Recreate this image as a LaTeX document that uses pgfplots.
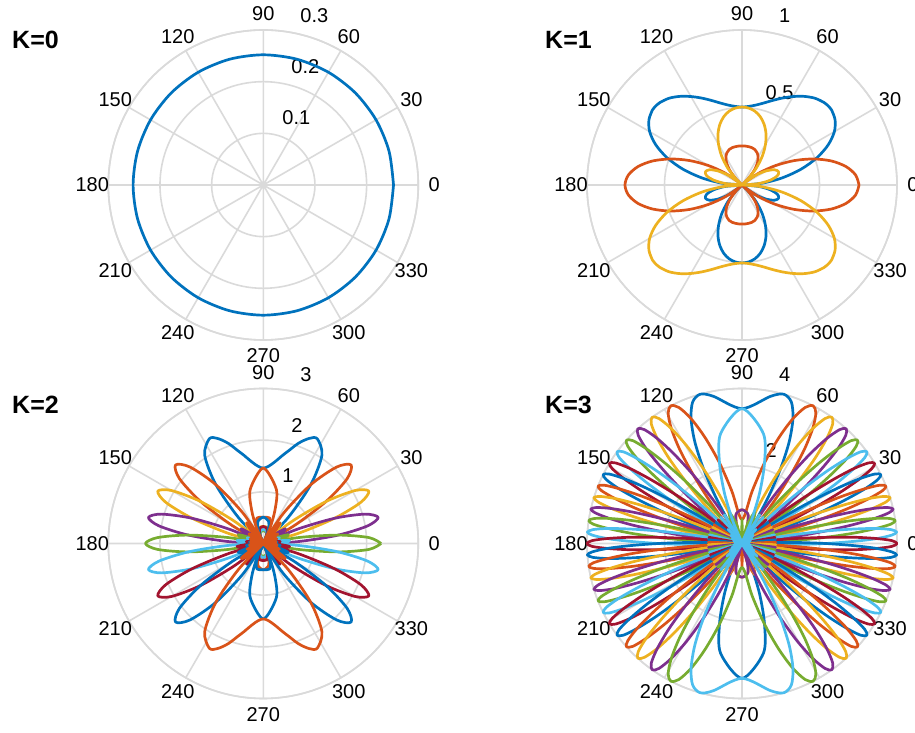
\documentclass[border=0pt]{standalone}
\usepackage{fontspec}
\setmainfont{Liberation Sans}
\usepackage{pgfplots}
\usepackage{pgfplotstable}
\usepgfplotslibrary{polar}
\pgfplotsset{compat=1.18}
\definecolor{c1}{RGB}{0,114,189}
\definecolor{c2}{RGB}{217,83,25}
\definecolor{c3}{RGB}{237,177,32}
\definecolor{c4}{RGB}{126,47,142}
\definecolor{c5}{RGB}{119,172,48}
\definecolor{c6}{RGB}{77,190,238}
\definecolor{c7}{RGB}{162,20,47}
\definecolor{gridc}{RGB}{218,218,218}
\pgfplotsset{
 mypolar/.style={scale only axis, width=310pt, height=310pt, anchor=origin, ymin=0,
  xtick={0,30,...,330}, xticklabel=\empty, yticklabel=\empty, major tick length=0pt,
  xmajorgrids, ymajorgrids, major grid style={draw=gridc, line width=1.6pt},
  axis line style={draw=gridc, line width=1.6pt}, clip=false},
 cv/.style={line width=2.7pt, smooth, no markers, line join=round},
}
\newcommand{\anglabels}[1]{%
 \pgfplotsinvokeforeach{0,30,...,330}{\node[inner sep=0pt, shift={(##1:16pt)}] at (axis cs:##1,#1) {##1};}}
\newcommand{\rlab}[2]{\node[anchor=west, inner sep=0pt] at ([xshift=10pt,yshift=16.5pt]axis cs:80,#1) {#2};}

\pgfplotstableread{
a b o y
0 0 0.755 0
5 0.127 0.736 0.109
10 0.262 0.682 0.190
15 0.395 0.598 0.238
20 0.515 0.491 0.251
25 0.614 0.373 0.232
30 0.688 0.252 0.184
35 0.733 0.137 0.115
40 0.754 0.033 0.032
41.8 0.755 0 0
45 0.751 0.053 0.057
50 0.731 0.122 0.146
55 0.698 0.173 0.230
60 0.659 0.208 0.303
65 0.619 0.230 0.366
70 0.581 0.243 0.417
75 0.548 0.249 0.456
80 0.524 0.251 0.483
85 0.509 0.252 0.498
90 0.503 0.252 0.503
95 0.509 0.252 0.498
100 0.524 0.251 0.483
105 0.548 0.249 0.456
110 0.581 0.243 0.417
115 0.619 0.230 0.366
120 0.659 0.208 0.303
125 0.698 0.173 0.230
130 0.731 0.122 0.146
135 0.751 0.053 0.057
138.2 0.755 0 0
140 0.754 0.033 0.032
145 0.733 0.137 0.115
150 0.688 0.252 0.184
155 0.614 0.373 0.232
160 0.515 0.491 0.251
165 0.395 0.598 0.238
170 0.262 0.682 0.190
175 0.127 0.736 0.109
180 0 0.755 0
185 0.109 0.736 0.127
190 0.190 0.682 0.262
195 0.238 0.598 0.395
200 0.251 0.491 0.515
205 0.232 0.373 0.614
210 0.184 0.252 0.688
215 0.115 0.137 0.733
220 0.032 0.033 0.754
221.8 0 0 0.755
225 0.057 0.053 0.751
230 0.146 0.122 0.731
235 0.230 0.173 0.698
240 0.303 0.208 0.659
245 0.366 0.230 0.619
250 0.417 0.243 0.581
255 0.456 0.249 0.548
260 0.483 0.251 0.524
265 0.498 0.252 0.509
270 0.503 0.252 0.503
275 0.498 0.252 0.509
280 0.483 0.251 0.524
285 0.456 0.249 0.548
290 0.417 0.243 0.581
295 0.366 0.230 0.619
300 0.303 0.208 0.659
305 0.230 0.173 0.698
310 0.146 0.122 0.731
315 0.057 0.053 0.751
318.2 0 0 0.755
320 0.032 0.033 0.754
325 0.115 0.137 0.733
330 0.184 0.252 0.688
335 0.232 0.373 0.614
340 0.251 0.491 0.515
345 0.238 0.598 0.395
350 0.190 0.682 0.262
355 0.109 0.736 0.127
360 0 0.755 0
}\Kone

\pgfplotstableread{
a r1 r2 r3 r4 r5 r6 r7 r8 r9
0 0 0 0 0 2.28 0 0 0 0
3.2 0.19 0.22 0.31 0.69 2.05 0.42 0.25 0.20 0.18
6.4 0.27 0.33 0.51 1.46 1.46 0.51 0.33 0.27 0.25
9.6 0.20 0.25 0.42 2.05 0.69 0.31 0.22 0.19 0.18
12.8 0 0 0 2.28 0 0 0 0 0
16.1 0.22 0.31 0.69 2.05 0.42 0.25 0.20 0.18 0.19
19.5 0.33 0.51 1.46 1.46 0.51 0.33 0.27 0.25 0.27
22.9 0.25 0.42 2.05 0.69 0.31 0.22 0.19 0.18 0.20
26.4 0 0 2.28 0 0 0 0 0 0
30 0.31 0.69 2.05 0.42 0.25 0.20 0.18 0.19 0.22
33.8 0.51 1.46 1.46 0.51 0.33 0.27 0.25 0.27 0.33
37.7 0.42 2.05 0.69 0.31 0.22 0.19 0.18 0.20 0.25
41.8 0 2.28 0 0 0 0 0 0 0
46.2 0.69 2.05 0.42 0.25 0.20 0.18 0.19 0.22 0.31
51.1 1.46 1.46 0.51 0.33 0.27 0.25 0.27 0.33 0.51
56.4 2.05 0.69 0.31 0.22 0.19 0.18 0.20 0.25 0.42
62.7 2.28 0 0 0 0 0 0 0 0
66.4 2.22 0.25 0.14 0.11 0.10 0.10 0.11 0.16 0.32
70.8 2.05 0.42 0.25 0.20 0.18 0.19 0.22 0.31 0.69
76.5 1.79 0.51 0.32 0.25 0.23 0.25 0.30 0.44 1.08
90 1.46 0.51 0.33 0.27 0.25 0.27 0.33 0.51 1.46
103.5 1.79 0.51 0.32 0.25 0.23 0.25 0.30 0.44 1.08
109.2 2.05 0.42 0.25 0.20 0.18 0.19 0.22 0.31 0.69
113.6 2.22 0.25 0.14 0.11 0.10 0.10 0.11 0.16 0.32
117.3 2.28 0 0 0 0 0 0 0 0
123.6 2.05 0.69 0.31 0.22 0.19 0.18 0.20 0.25 0.42
128.9 1.46 1.46 0.51 0.33 0.27 0.25 0.27 0.33 0.51
133.8 0.69 2.05 0.42 0.25 0.20 0.18 0.19 0.22 0.31
138.2 0 2.28 0 0 0 0 0 0 0
142.3 0.42 2.05 0.69 0.31 0.22 0.19 0.18 0.20 0.25
146.2 0.51 1.46 1.46 0.51 0.33 0.27 0.25 0.27 0.33
150 0.31 0.69 2.05 0.42 0.25 0.20 0.18 0.19 0.22
153.6 0 0 2.28 0 0 0 0 0 0
157.1 0.25 0.42 2.05 0.69 0.31 0.22 0.19 0.18 0.20
160.5 0.33 0.51 1.46 1.46 0.51 0.33 0.27 0.25 0.27
163.9 0.22 0.31 0.69 2.05 0.42 0.25 0.20 0.18 0.19
167.2 0 0 0 2.28 0 0 0 0 0
170.4 0.20 0.25 0.42 2.05 0.69 0.31 0.22 0.19 0.18
173.6 0.27 0.33 0.51 1.46 1.46 0.51 0.33 0.27 0.25
176.8 0.19 0.22 0.31 0.69 2.05 0.42 0.25 0.20 0.18
180 0 0 0 0 2.28 0 0 0 0
183.2 0.18 0.20 0.25 0.42 2.05 0.69 0.31 0.22 0.19
186.4 0.25 0.27 0.33 0.51 1.46 1.46 0.51 0.33 0.27
189.6 0.18 0.19 0.22 0.31 0.69 2.05 0.42 0.25 0.20
192.8 0 0 0 0 0 2.28 0 0 0
196.1 0.19 0.18 0.20 0.25 0.42 2.05 0.69 0.31 0.22
199.5 0.27 0.25 0.27 0.33 0.51 1.46 1.46 0.51 0.33
202.9 0.20 0.18 0.19 0.22 0.31 0.69 2.05 0.42 0.25
206.4 0 0 0 0 0 0 2.28 0 0
210 0.22 0.19 0.18 0.20 0.25 0.42 2.05 0.69 0.31
213.8 0.33 0.27 0.25 0.27 0.33 0.51 1.46 1.46 0.51
217.7 0.25 0.20 0.18 0.19 0.22 0.31 0.69 2.05 0.42
221.8 0 0 0 0 0 0 0 2.28 0
226.2 0.31 0.22 0.19 0.18 0.20 0.25 0.42 2.05 0.69
231.1 0.51 0.33 0.27 0.25 0.27 0.33 0.51 1.46 1.46
236.4 0.42 0.25 0.20 0.18 0.19 0.22 0.31 0.69 2.05
242.7 0 0 0 0 0 0 0 0 2.28
246.4 0.32 0.16 0.11 0.10 0.10 0.11 0.14 0.25 2.22
250.8 0.69 0.31 0.22 0.19 0.18 0.20 0.25 0.42 2.05
256.5 1.08 0.44 0.30 0.25 0.23 0.25 0.32 0.51 1.79
270 1.46 0.51 0.33 0.27 0.25 0.27 0.33 0.51 1.46
283.5 1.08 0.44 0.30 0.25 0.23 0.25 0.32 0.51 1.79
289.2 0.69 0.31 0.22 0.19 0.18 0.20 0.25 0.42 2.05
293.6 0.32 0.16 0.11 0.10 0.10 0.11 0.14 0.25 2.22
297.3 0 0 0 0 0 0 0 0 2.28
303.6 0.42 0.25 0.20 0.18 0.19 0.22 0.31 0.69 2.05
308.9 0.51 0.33 0.27 0.25 0.27 0.33 0.51 1.46 1.46
313.8 0.31 0.22 0.19 0.18 0.20 0.25 0.42 2.05 0.69
318.2 0 0 0 0 0 0 0 2.28 0
322.3 0.25 0.20 0.18 0.19 0.22 0.31 0.69 2.05 0.42
326.2 0.33 0.27 0.25 0.27 0.33 0.51 1.46 1.46 0.51
330 0.22 0.19 0.18 0.20 0.25 0.42 2.05 0.69 0.31
333.6 0 0 0 0 0 0 2.28 0 0
337.1 0.20 0.18 0.19 0.22 0.31 0.69 2.05 0.42 0.25
340.5 0.27 0.25 0.27 0.33 0.51 1.46 1.46 0.51 0.33
343.9 0.19 0.18 0.20 0.25 0.42 2.05 0.69 0.31 0.22
347.2 0 0 0 0 0 2.28 0 0 0
350.4 0.18 0.19 0.22 0.31 0.69 2.05 0.42 0.25 0.20
353.6 0.25 0.27 0.33 0.51 1.46 1.46 0.51 0.33 0.27
356.8 0.18 0.20 0.25 0.42 2.05 0.69 0.31 0.22 0.19
360 0 0 0 0 2.28 0 0 0 0
}\Ktwo

\begin{document}
\begin{tikzpicture}[font=\fontsize{20}{24}\selectfont]
\useasboundingbox (0,0) rectangle (915pt,733pt);
\node[anchor=base west, inner sep=0pt, font=\fontsize{25}{30}\selectfont\bfseries] at (12pt,684.7pt) {K=0};
\node[anchor=base west, inner sep=0pt, font=\fontsize{25}{30}\selectfont\bfseries] at (545pt,684.7pt) {K=1};
\node[anchor=base west, inner sep=0pt, font=\fontsize{25}{30}\selectfont\bfseries] at (12pt,319.7pt) {K=2};
\node[anchor=base west, inner sep=0pt, font=\fontsize{25}{30}\selectfont\bfseries] at (545pt,319.7pt) {K=3};

% ---------------- K=0
\begin{polaraxis}[mypolar, at={(263.3pt,548pt)}, ymax=0.3, ytick={0.1,0.2,0.3}]
\anglabels{0.3}
\rlab{0.1}{0.1}\rlab{0.2}{0.2}\rlab{0.3}{0.3}
\addplot[cv, c1] coordinates {(0,0.252)(15,0.252)(30,0.252)(45,0.252)(60,0.252)(75,0.252)(90,0.252)(105,0.252)(120,0.252)(135,0.252)(150,0.252)(165,0.252)(180,0.252)(195,0.252)(210,0.252)(225,0.252)(240,0.252)(255,0.252)(270,0.252)(285,0.252)(300,0.252)(315,0.252)(330,0.252)(345,0.252)(360,0.252)};
\end{polaraxis}

% ---------------- K=1
\begin{polaraxis}[mypolar, at={(742pt,548pt)}, ymax=1, ytick={0.5,1}]
\anglabels{1}
\rlab{0.5}{0.5}\rlab{1}{1}
\addplot[cv, c1] table[x=a, y=b] {\Kone};
\addplot[cv, c2] table[x=a, y=o] {\Kone};
\addplot[cv, c3] table[x=a, y=y] {\Kone};
\end{polaraxis}

% ---------------- K=2
\begin{polaraxis}[mypolar, at={(263.3pt,189.5pt)}, ymax=3, ytick={1,2,3}]
\anglabels{3}
\rlab{1}{1}\rlab{2}{2}\rlab{3}{3}
\addplot[cv, c1] table[x=a, y=r1] {\Ktwo};
\addplot[cv, c2] table[x=a, y=r2] {\Ktwo};
\addplot[cv, c3] table[x=a, y=r3] {\Ktwo};
\addplot[cv, c4] table[x=a, y=r4] {\Ktwo};
\addplot[cv, c5] table[x=a, y=r5] {\Ktwo};
\addplot[cv, c6] table[x=a, y=r6] {\Ktwo};
\addplot[cv, c7] table[x=a, y=r7] {\Ktwo};
\addplot[cv, c1] table[x=a, y=r8] {\Ktwo};
\addplot[cv, c2] table[x=a, y=r9] {\Ktwo};
\end{polaraxis}

% ---------------- K=3
\begin{polaraxis}[mypolar, at={(742pt,189.5pt)}, ymax=4, ytick={2,4}]
\anglabels{4}
\rlab{2}{2}\rlab{4}{4}
% m=13
\addplot[cv, c1] coordinates {(44.7,0)(51.1,0.87)(56.4,0)(58.4,0.62)(60.5,1.38)(62.7,2.16)(65.1,2.89)(67.8,3.48)(70.8,3.87)(74.4,4)(79.0,3.87)(90,3.48)(101.0,3.87)(105.6,4)(109.2,3.87)(112.2,3.48)(114.9,2.89)(117.3,2.16)(119.5,1.38)(121.6,0.62)(123.6,0)(128.9,0.87)(135.3,0)(231.1,0)(238.4,0.87)(245.1,0)(247.8,0.62)(250.8,1.38)(254.4,2.16)(259.0,2.89)(270,3.48)(281.0,2.89)(285.6,2.16)(289.2,1.38)(292.2,0.62)(294.9,0)(301.6,0.87)(308.9,0)};
% m=12
\addplot[cv, c2] coordinates {(39.0,0)(44.7,0.87)(49.4,0)(51.1,0.62)(52.8,1.38)(54.6,2.16)(56.4,2.89)(58.4,3.48)(60.5,3.87)(62.7,4)(65.1,3.87)(67.8,3.48)(70.8,2.89)(74.4,2.16)(79.0,1.38)(90,0.62)(101.0,1.38)(105.6,2.16)(109.2,2.89)(112.2,3.48)(114.9,3.87)(117.3,4)(119.5,3.87)(121.6,3.48)(123.6,2.89)(125.4,2.16)(127.2,1.38)(128.9,0.62)(130.6,0)(135.3,0.87)(141.0,0)(238.4,0)(242.7,0.57)(247.8,0.87)(254.4,0.50)(259.0,0)(270,0.62)(281.0,0)(285.6,0.50)(292.2,0.87)(297.3,0.57)(301.6,0)};
% m=11
\addplot[cv, c3] coordinates {(33.8,0)(39.0,0.87)(43.3,0)(44.7,0.62)(46.2,1.38)(47.8,2.16)(49.4,2.89)(51.1,3.48)(52.8,3.87)(54.6,4)(56.4,3.87)(58.4,3.48)(60.5,2.89)(62.7,2.16)(65.1,1.38)(67.8,0.62)(70.8,0)(74.4,0.50)(79.0,0.78)(90,0.87)(101.0,0.78)(105.6,0.50)(109.2,0)(112.2,0.62)(114.9,1.38)(117.3,2.16)(119.5,2.89)(121.6,3.48)(123.6,3.87)(125.4,4)(127.2,3.87)(128.9,3.48)(130.6,2.89)(132.2,2.16)(133.8,1.38)(135.3,0.62)(136.7,0)(141.0,0.87)(146.2,0)(247.8,0)(250.8,0.28)(254.4,0.57)(259.0,0.78)(270,0.87)(281.0,0.78)(285.6,0.57)(289.2,0.28)(292.2,0)};
% m=10
\addplot[cv, c4] coordinates {(28.8,0)(33.8,0.87)(37.7,0)(39.0,0.62)(40.4,1.38)(41.8,2.16)(43.3,2.89)(44.7,3.48)(46.2,3.87)(47.8,4)(49.4,3.87)(51.1,3.48)(52.8,2.89)(54.6,2.16)(56.4,1.38)(58.4,0.62)(60.5,0)(67.8,0.87)(90,0)(112.2,0.87)(119.5,0)(121.6,0.62)(123.6,1.38)(125.4,2.16)(127.2,2.89)(128.9,3.48)(130.6,3.87)(132.2,4)(133.8,3.87)(135.3,3.48)(136.7,2.89)(138.2,2.16)(139.6,1.38)(141.0,0.62)(142.3,0)(146.2,0.87)(151.2,0)};
% m=9
\addplot[cv, c5] coordinates {(24.0,0)(28.8,0.87)(32.5,0)(33.8,0.62)(35.0,1.38)(36.3,2.16)(37.7,2.89)(39.0,3.48)(40.4,3.87)(41.8,4)(43.3,3.87)(44.7,3.48)(46.2,2.89)(47.8,2.16)(49.4,1.38)(51.1,0.62)(52.8,0)(58.4,0.87)(67.8,0)(112.2,0)(121.6,0.87)(127.2,0)(128.9,0.62)(130.6,1.38)(132.2,2.16)(133.8,2.89)(135.3,3.48)(136.7,3.87)(138.2,4)(139.6,3.87)(141.0,3.48)(142.3,2.89)(143.7,2.16)(145.0,1.38)(146.2,0.62)(147.5,0)(151.2,0.87)(156.0,0)};
% m=8
\addplot[cv, c6] coordinates {(19.5,0)(24.0,0.87)(27.6,0)(28.8,0.62)(30.0,1.38)(31.2,2.16)(32.5,2.89)(33.8,3.48)(35.0,3.87)(36.3,4)(37.7,3.87)(39.0,3.48)(40.4,2.89)(41.8,2.16)(43.3,1.38)(44.7,0.62)(46.2,0)(51.1,0.87)(58.4,0)(121.6,0)(128.9,0.87)(133.8,0)(135.3,0.62)(136.7,1.38)(138.2,2.16)(139.6,2.89)(141.0,3.48)(142.3,3.87)(143.7,4)(145.0,3.87)(146.2,3.48)(147.5,2.89)(148.8,2.16)(150.0,1.38)(151.2,0.62)(152.4,0)(156.0,0.87)(160.5,0)};
% m=7
\addplot[cv, c7] coordinates {(15.0,0)(19.5,0.87)(22.9,0)(24.0,0.62)(25.2,1.38)(26.4,2.16)(27.6,2.89)(28.8,3.48)(30.0,3.87)(31.2,4)(32.5,3.87)(33.8,3.48)(35.0,2.89)(36.3,2.16)(37.7,1.38)(39.0,0.62)(40.4,0)(44.7,0.87)(51.1,0)(128.9,0)(135.3,0.87)(139.6,0)(141.0,0.62)(142.3,1.38)(143.7,2.16)(145.0,2.89)(146.2,3.48)(147.5,3.87)(148.8,4)(150.0,3.87)(151.2,3.48)(152.4,2.89)(153.6,2.16)(154.8,1.38)(156.0,0.62)(157.1,0)(160.5,0.87)(165.0,0)};
% m=6
\addplot[cv, c1] coordinates {(10.7,0)(15.0,0.87)(18.3,0)(19.5,0.62)(20.6,1.38)(21.7,2.16)(22.9,2.89)(24.0,3.48)(25.2,3.87)(26.4,4)(27.6,3.87)(28.8,3.48)(30.0,2.89)(31.2,2.16)(32.5,1.38)(33.8,0.62)(35.0,0)(39.0,0.87)(44.7,0)(135.3,0)(141.0,0.87)(145.0,0)(146.2,0.62)(147.5,1.38)(148.8,2.16)(150.0,2.89)(151.2,3.48)(152.4,3.87)(153.6,4)(154.8,3.87)(156.0,3.48)(157.1,2.89)(158.3,2.16)(159.4,1.38)(160.5,0.62)(161.7,0)(165.0,0.87)(169.3,0)};
% m=5
\addplot[cv, c2] coordinates {(6.4,0)(10.7,0.87)(13.9,0)(15.0,0.62)(16.1,1.38)(17.2,2.16)(18.3,2.89)(19.5,3.48)(20.6,3.87)(21.7,4)(22.9,3.87)(24.0,3.48)(25.2,2.89)(26.4,2.16)(27.6,1.38)(28.8,0.62)(30.0,0)(33.8,0.87)(39.0,0)(141.0,0)(146.2,0.87)(150.0,0)(151.2,0.62)(152.4,1.38)(153.6,2.16)(154.8,2.89)(156.0,3.48)(157.1,3.87)(158.3,4)(159.4,3.87)(160.5,3.48)(161.7,2.89)(162.8,2.16)(163.9,1.38)(165.0,0.62)(166.1,0)(169.3,0.87)(173.6,0)};
% m=4
\addplot[cv, c3] coordinates {(2.1,0)(6.4,0.87)(9.6,0)(10.7,0.62)(11.8,1.38)(12.8,2.16)(13.9,2.89)(15.0,3.48)(16.1,3.87)(17.2,4)(18.3,3.87)(19.5,3.48)(20.6,2.89)(21.7,2.16)(22.9,1.38)(24.0,0.62)(25.2,0)(28.8,0.87)(33.8,0)(146.2,0)(151.2,0.87)(154.8,0)(156.0,0.62)(157.1,1.38)(158.3,2.16)(159.4,2.89)(160.5,3.48)(161.7,3.87)(162.8,4)(163.9,3.87)(165.0,3.48)(166.1,2.89)(167.2,2.16)(168.2,1.38)(169.3,0.62)(170.4,0)(173.6,0.87)(177.9,0)};
% m=3
\addplot[cv, c4] coordinates {(-2.1,0)(2.1,0.87)(5.3,0)(6.4,0.62)(7.4,1.38)(8.5,2.16)(9.6,2.89)(10.7,3.48)(11.8,3.87)(12.8,4)(13.9,3.87)(15.0,3.48)(16.1,2.89)(17.2,2.16)(18.3,1.38)(19.5,0.62)(20.6,0)(24.0,0.87)(28.8,0)(151.2,0)(156.0,0.87)(159.4,0)(160.5,0.62)(161.7,1.38)(162.8,2.16)(163.9,2.89)(165.0,3.48)(166.1,3.87)(167.2,4)(168.2,3.87)(169.3,3.48)(170.4,2.89)(171.5,2.16)(172.6,1.38)(173.6,0.62)(174.7,0)(177.9,0.87)(182.1,0)};
% m=2
\addplot[cv, c5] coordinates {(-6.4,0)(-2.1,0.87)(1.1,0)(2.1,0.62)(3.2,1.38)(4.2,2.16)(5.3,2.89)(6.4,3.48)(7.4,3.87)(8.5,4)(9.6,3.87)(10.7,3.48)(11.8,2.89)(12.8,2.16)(13.9,1.38)(15.0,0.62)(16.1,0)(19.5,0.87)(24.0,0)(156.0,0)(160.5,0.87)(163.9,0)(165.0,0.62)(166.1,1.38)(167.2,2.16)(168.2,2.89)(169.3,3.48)(170.4,3.87)(171.5,4)(172.6,3.87)(173.6,3.48)(174.7,2.89)(175.8,2.16)(176.8,1.38)(177.9,0.62)(178.9,0)(182.1,0.87)(186.4,0)};
% m=1
\addplot[cv, c6] coordinates {(-10.7,0)(-6.4,0.87)(-3.2,0)(-2.1,0.62)(-1.1,1.38)(0,2.16)(1.1,2.89)(2.1,3.48)(3.2,3.87)(4.2,4)(5.3,3.87)(6.4,3.48)(7.4,2.89)(8.5,2.16)(9.6,1.38)(10.7,0.62)(11.8,0)(15.0,0.87)(19.5,0)(160.5,0)(165.0,0.87)(168.2,0)(169.3,0.62)(170.4,1.38)(171.5,2.16)(172.6,2.89)(173.6,3.48)(174.7,3.87)(175.8,4)(176.8,3.87)(177.9,3.48)(178.9,2.89)(180,2.16)(181.1,1.38)(182.1,0.62)(183.2,0)(186.4,0.87)(190.7,0)};
% m=0
\addplot[cv, c7] coordinates {(-15.0,0)(-10.7,0.87)(-7.4,0)(-6.4,0.62)(-5.3,1.38)(-4.2,2.16)(-3.2,2.89)(-2.1,3.48)(-1.1,3.87)(0,4)(1.1,3.87)(2.1,3.48)(3.2,2.89)(4.2,2.16)(5.3,1.38)(6.4,0.62)(7.4,0)(10.7,0.87)(15.0,0)(165.0,0)(169.3,0.87)(172.6,0)(173.6,0.62)(174.7,1.38)(175.8,2.16)(176.8,2.89)(177.9,3.48)(178.9,3.87)(180,4)(181.1,3.87)(182.1,3.48)(183.2,2.89)(184.2,2.16)(185.3,1.38)(186.4,0.62)(187.4,0)(190.7,0.87)(195.0,0)};
% m=-1
\addplot[cv, c1] coordinates {(10.7,0)(6.4,0.87)(3.2,0)(2.1,0.62)(1.1,1.38)(0,2.16)(-1.1,2.89)(-2.1,3.48)(-3.2,3.87)(-4.2,4)(-5.3,3.87)(-6.4,3.48)(-7.4,2.89)(-8.5,2.16)(-9.6,1.38)(-10.7,0.62)(-11.8,0)(-15.0,0.87)(-19.5,0)(-160.5,0)(-165.0,0.87)(-168.2,0)(-169.3,0.62)(-170.4,1.38)(-171.5,2.16)(-172.6,2.89)(-173.6,3.48)(-174.7,3.87)(-175.8,4)(-176.8,3.87)(-177.9,3.48)(-178.9,2.89)(-180,2.16)(-181.1,1.38)(-182.1,0.62)(-183.2,0)(-186.4,0.87)(-190.7,0)};
% m=-2
\addplot[cv, c2] coordinates {(6.4,0)(2.1,0.87)(-1.1,0)(-2.1,0.62)(-3.2,1.38)(-4.2,2.16)(-5.3,2.89)(-6.4,3.48)(-7.4,3.87)(-8.5,4)(-9.6,3.87)(-10.7,3.48)(-11.8,2.89)(-12.8,2.16)(-13.9,1.38)(-15.0,0.62)(-16.1,0)(-19.5,0.87)(-24.0,0)(-156.0,0)(-160.5,0.87)(-163.9,0)(-165.0,0.62)(-166.1,1.38)(-167.2,2.16)(-168.2,2.89)(-169.3,3.48)(-170.4,3.87)(-171.5,4)(-172.6,3.87)(-173.6,3.48)(-174.7,2.89)(-175.8,2.16)(-176.8,1.38)(-177.9,0.62)(-178.9,0)(-182.1,0.87)(-186.4,0)};
% m=-3
\addplot[cv, c3] coordinates {(2.1,0)(-2.1,0.87)(-5.3,0)(-6.4,0.62)(-7.4,1.38)(-8.5,2.16)(-9.6,2.89)(-10.7,3.48)(-11.8,3.87)(-12.8,4)(-13.9,3.87)(-15.0,3.48)(-16.1,2.89)(-17.2,2.16)(-18.3,1.38)(-19.5,0.62)(-20.6,0)(-24.0,0.87)(-28.8,0)(-151.2,0)(-156.0,0.87)(-159.4,0)(-160.5,0.62)(-161.7,1.38)(-162.8,2.16)(-163.9,2.89)(-165.0,3.48)(-166.1,3.87)(-167.2,4)(-168.2,3.87)(-169.3,3.48)(-170.4,2.89)(-171.5,2.16)(-172.6,1.38)(-173.6,0.62)(-174.7,0)(-177.9,0.87)(-182.1,0)};
% m=-4
\addplot[cv, c4] coordinates {(-2.1,0)(-6.4,0.87)(-9.6,0)(-10.7,0.62)(-11.8,1.38)(-12.8,2.16)(-13.9,2.89)(-15.0,3.48)(-16.1,3.87)(-17.2,4)(-18.3,3.87)(-19.5,3.48)(-20.6,2.89)(-21.7,2.16)(-22.9,1.38)(-24.0,0.62)(-25.2,0)(-28.8,0.87)(-33.8,0)(-146.2,0)(-151.2,0.87)(-154.8,0)(-156.0,0.62)(-157.1,1.38)(-158.3,2.16)(-159.4,2.89)(-160.5,3.48)(-161.7,3.87)(-162.8,4)(-163.9,3.87)(-165.0,3.48)(-166.1,2.89)(-167.2,2.16)(-168.2,1.38)(-169.3,0.62)(-170.4,0)(-173.6,0.87)(-177.9,0)};
% m=-5
\addplot[cv, c5] coordinates {(-6.4,0)(-10.7,0.87)(-13.9,0)(-15.0,0.62)(-16.1,1.38)(-17.2,2.16)(-18.3,2.89)(-19.5,3.48)(-20.6,3.87)(-21.7,4)(-22.9,3.87)(-24.0,3.48)(-25.2,2.89)(-26.4,2.16)(-27.6,1.38)(-28.8,0.62)(-30.0,0)(-33.8,0.87)(-39.0,0)(-141.0,0)(-146.2,0.87)(-150.0,0)(-151.2,0.62)(-152.4,1.38)(-153.6,2.16)(-154.8,2.89)(-156.0,3.48)(-157.1,3.87)(-158.3,4)(-159.4,3.87)(-160.5,3.48)(-161.7,2.89)(-162.8,2.16)(-163.9,1.38)(-165.0,0.62)(-166.1,0)(-169.3,0.87)(-173.6,0)};
% m=-6
\addplot[cv, c6] coordinates {(-10.7,0)(-15.0,0.87)(-18.3,0)(-19.5,0.62)(-20.6,1.38)(-21.7,2.16)(-22.9,2.89)(-24.0,3.48)(-25.2,3.87)(-26.4,4)(-27.6,3.87)(-28.8,3.48)(-30.0,2.89)(-31.2,2.16)(-32.5,1.38)(-33.8,0.62)(-35.0,0)(-39.0,0.87)(-44.7,0)(-135.3,0)(-141.0,0.87)(-145.0,0)(-146.2,0.62)(-147.5,1.38)(-148.8,2.16)(-150.0,2.89)(-151.2,3.48)(-152.4,3.87)(-153.6,4)(-154.8,3.87)(-156.0,3.48)(-157.1,2.89)(-158.3,2.16)(-159.4,1.38)(-160.5,0.62)(-161.7,0)(-165.0,0.87)(-169.3,0)};
% m=-7
\addplot[cv, c7] coordinates {(-15.0,0)(-19.5,0.87)(-22.9,0)(-24.0,0.62)(-25.2,1.38)(-26.4,2.16)(-27.6,2.89)(-28.8,3.48)(-30.0,3.87)(-31.2,4)(-32.5,3.87)(-33.8,3.48)(-35.0,2.89)(-36.3,2.16)(-37.7,1.38)(-39.0,0.62)(-40.4,0)(-44.7,0.87)(-51.1,0)(-128.9,0)(-135.3,0.87)(-139.6,0)(-141.0,0.62)(-142.3,1.38)(-143.7,2.16)(-145.0,2.89)(-146.2,3.48)(-147.5,3.87)(-148.8,4)(-150.0,3.87)(-151.2,3.48)(-152.4,2.89)(-153.6,2.16)(-154.8,1.38)(-156.0,0.62)(-157.1,0)(-160.5,0.87)(-165.0,0)};
% m=-8
\addplot[cv, c1] coordinates {(-19.5,0)(-24.0,0.87)(-27.6,0)(-28.8,0.62)(-30.0,1.38)(-31.2,2.16)(-32.5,2.89)(-33.8,3.48)(-35.0,3.87)(-36.3,4)(-37.7,3.87)(-39.0,3.48)(-40.4,2.89)(-41.8,2.16)(-43.3,1.38)(-44.7,0.62)(-46.2,0)(-51.1,0.87)(-58.4,0)(-121.6,0)(-128.9,0.87)(-133.8,0)(-135.3,0.62)(-136.7,1.38)(-138.2,2.16)(-139.6,2.89)(-141.0,3.48)(-142.3,3.87)(-143.7,4)(-145.0,3.87)(-146.2,3.48)(-147.5,2.89)(-148.8,2.16)(-150.0,1.38)(-151.2,0.62)(-152.4,0)(-156.0,0.87)(-160.5,0)};
% m=-9
\addplot[cv, c2] coordinates {(-24.0,0)(-28.8,0.87)(-32.5,0)(-33.8,0.62)(-35.0,1.38)(-36.3,2.16)(-37.7,2.89)(-39.0,3.48)(-40.4,3.87)(-41.8,4)(-43.3,3.87)(-44.7,3.48)(-46.2,2.89)(-47.8,2.16)(-49.4,1.38)(-51.1,0.62)(-52.8,0)(-58.4,0.87)(-67.8,0)(-112.2,0)(-121.6,0.87)(-127.2,0)(-128.9,0.62)(-130.6,1.38)(-132.2,2.16)(-133.8,2.89)(-135.3,3.48)(-136.7,3.87)(-138.2,4)(-139.6,3.87)(-141.0,3.48)(-142.3,2.89)(-143.7,2.16)(-145.0,1.38)(-146.2,0.62)(-147.5,0)(-151.2,0.87)(-156.0,0)};
% m=-10
\addplot[cv, c3] coordinates {(-28.8,0)(-33.8,0.87)(-37.7,0)(-39.0,0.62)(-40.4,1.38)(-41.8,2.16)(-43.3,2.89)(-44.7,3.48)(-46.2,3.87)(-47.8,4)(-49.4,3.87)(-51.1,3.48)(-52.8,2.89)(-54.6,2.16)(-56.4,1.38)(-58.4,0.62)(-60.5,0)(-67.8,0.87)(-90,0)(-112.2,0.87)(-119.5,0)(-121.6,0.62)(-123.6,1.38)(-125.4,2.16)(-127.2,2.89)(-128.9,3.48)(-130.6,3.87)(-132.2,4)(-133.8,3.87)(-135.3,3.48)(-136.7,2.89)(-138.2,2.16)(-139.6,1.38)(-141.0,0.62)(-142.3,0)(-146.2,0.87)(-151.2,0)};
% m=-11
\addplot[cv, c4] coordinates {(-33.8,0)(-39.0,0.87)(-43.3,0)(-44.7,0.62)(-46.2,1.38)(-47.8,2.16)(-49.4,2.89)(-51.1,3.48)(-52.8,3.87)(-54.6,4)(-56.4,3.87)(-58.4,3.48)(-60.5,2.89)(-62.7,2.16)(-65.1,1.38)(-67.8,0.62)(-70.8,0)(-74.4,0.50)(-79.0,0.78)(-90,0.87)(-101.0,0.78)(-105.6,0.50)(-109.2,0)(-112.2,0.62)(-114.9,1.38)(-117.3,2.16)(-119.5,2.89)(-121.6,3.48)(-123.6,3.87)(-125.4,4)(-127.2,3.87)(-128.9,3.48)(-130.6,2.89)(-132.2,2.16)(-133.8,1.38)(-135.3,0.62)(-136.7,0)(-141.0,0.87)(-146.2,0)(-247.8,0)(-250.8,0.28)(-254.4,0.57)(-259.0,0.78)(-270,0.87)(-281.0,0.78)(-285.6,0.57)(-289.2,0.28)(-292.2,0)};
% m=-12
\addplot[cv, c5] coordinates {(-39.0,0)(-44.7,0.87)(-49.4,0)(-51.1,0.62)(-52.8,1.38)(-54.6,2.16)(-56.4,2.89)(-58.4,3.48)(-60.5,3.87)(-62.7,4)(-65.1,3.87)(-67.8,3.48)(-70.8,2.89)(-74.4,2.16)(-79.0,1.38)(-90,0.62)(-101.0,1.38)(-105.6,2.16)(-109.2,2.89)(-112.2,3.48)(-114.9,3.87)(-117.3,4)(-119.5,3.87)(-121.6,3.48)(-123.6,2.89)(-125.4,2.16)(-127.2,1.38)(-128.9,0.62)(-130.6,0)(-135.3,0.87)(-141.0,0)(-238.4,0)(-242.7,0.57)(-247.8,0.87)(-254.4,0.50)(-259.0,0)(-270,0.62)(-281.0,0)(-285.6,0.50)(-292.2,0.87)(-297.3,0.57)(-301.6,0)};
% m=-13 (with its far side lobes)
\addplot[cv, c6] coordinates {(128.9,0)(121.6,0.87)(114.9,0)(112.2,0.62)(109.2,1.38)(105.6,2.16)(101.0,2.89)(90,3.48)(79.0,2.89)(74.4,2.16)(70.8,1.38)(67.8,0.62)(65.1,0)(58.4,0.87)(51.1,0)(45.5,0.51)(40.4,0)(35.7,0.36)(31.2,0)(27.0,0.28)(22.9,0)(18.9,0.23)(15.0,0)(11.3,0.20)(7.4,0)(3.7,0.17)(0.5,0.17)(-3.2,0)(-6.9,0.20)(-10.7,0)(-14.5,0.23)(-18.3,0)(-22.3,0.28)(-26.4,0)(-30.6,0.36)(-35.0,0)(-39.7,0.51)(-44.7,0)(-51.1,0.87)(-56.4,0)(-58.4,0.62)(-60.5,1.38)(-62.7,2.16)(-65.1,2.89)(-67.8,3.48)(-70.8,3.87)(-74.4,4)(-79.0,3.87)(-90,3.48)(-101.0,3.87)(-105.6,4)(-109.2,3.87)(-112.2,3.48)(-114.9,2.89)(-117.3,2.16)(-119.5,1.38)(-121.6,0.62)(-123.6,0)(-128.9,0.87)(-135.3,0)(-140.3,0.51)(-145.0,0)(-149.4,0.36)(-153.6,0)(-157.7,0.28)(-161.7,0)(-165.5,0.23)(-169.3,0)(-173.1,0.20)(-176.8,0)(-180.5,0.17)(-183.7,0.17)(-187.4,0)(-191.3,0.20)(-195.0,0)(-198.9,0.23)(-202.9,0)(-207.0,0.28)(-211.2,0)(-215.7,0.36)(-220.4,0)(-225.5,0.51)(-231.1,0)};
\end{polaraxis}
\end{tikzpicture}
\end{document}
